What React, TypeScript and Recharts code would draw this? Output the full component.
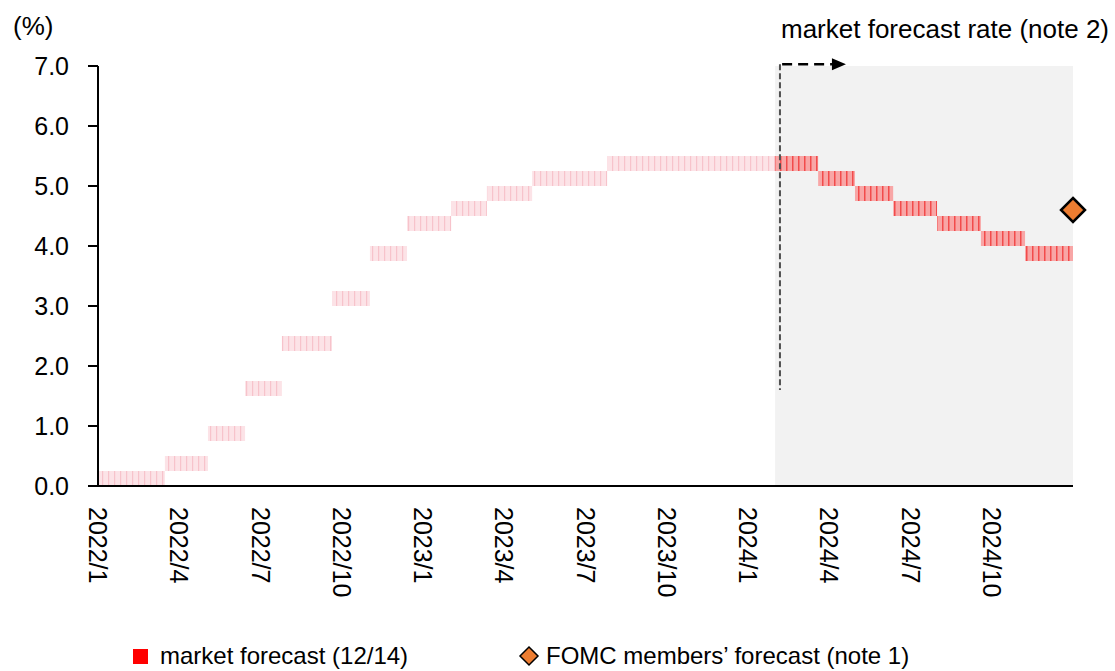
import React from 'react';
import {
  ComposedChart,
  Area,
  Scatter,
  XAxis,
  YAxis,
  ReferenceArea,
  ReferenceLine,
  Legend,
} from 'recharts';

// months counted from 2022/1 (0) to 2025/1 (36)
const histStart = [0, 2.47, 4.06, 5.43, 6.79, 8.64, 10.04, 11.41, 13.04, 14.36, 16.03, 18.8];
const histLow = [0, 0.25, 0.75, 1.5, 2.25, 3.0, 3.75, 4.25, 4.5, 4.75, 5.0, 5.25];
const histEnd = 25.15;

const fcstStart = [25, 26.59, 27.95, 29.36, 30.98, 32.6, 34.23];
const fcstLow = [5.25, 5.0, 4.75, 4.5, 4.25, 4.0, 3.75];
const fcstEnd = 36;

const bandWidth = 0.25;

const fomcMonth = [36];
const fomcRate = [4.6];

const xTicks = [0, 3, 6, 9, 12, 15, 18, 21, 24, 27, 30, 33];
const xTickLabels = [
  '2022/1', '2022/4', '2022/7', '2022/10',
  '2023/1', '2023/4', '2023/7', '2023/10',
  '2024/1', '2024/4', '2024/7', '2024/10',
];
const yTicks = [0, 1, 2, 3, 4, 5, 6, 7];

const forecastFrom = 25;
const forecastLineAt = 25.18;

const FONT = '"Liberation Sans", Arial, sans-serif';

// build rows for the step bands
const rows: any[] = [];
histStart.forEach((m, i) => rows.push({ m, hist: [histLow[i], histLow[i] + bandWidth] }));
rows.push({ m: histEnd, hist: [histLow[histLow.length - 1], histLow[histLow.length - 1] + bandWidth] });
fcstStart.forEach((m, i) => rows.push({ m, fcst: [fcstLow[i], fcstLow[i] + bandWidth] }));
rows.push({ m: fcstEnd, fcst: [fcstLow[fcstLow.length - 1], fcstLow[fcstLow.length - 1] + bandWidth] });
rows.sort((a, b) => a.m - b.m);

const fomcData = fomcMonth.map((m, i) => ({ m, rate: fomcRate[i] }));

const XTick = ({ x, y, index }: any) => (
  <text
    x={x}
    y={y}
    transform={`rotate(90 ${x} ${y})`}
    textAnchor="start"
    dominantBaseline="central"
    fontSize={25}
    fontFamily={FONT}
    fill="#000"
  >
    {xTickLabels[index]}
  </text>
);

const Diamond = ({ cx, cy }: any) => (
  <polygon
    points={`${cx},${cy - 12} ${cx + 12},${cy} ${cx},${cy + 12} ${cx - 12},${cy}`}
    fill="#ED7D31"
    stroke="#000"
    strokeWidth={2.5}
  />
);

const ArrowShape = ({ x1, y1, x2, y2 }: any) => (
  <g>
    <line x1={x1} y1={y1} x2={x2} y2={y2} stroke="#000" strokeWidth={2.5} strokeDasharray="10 6" />
    <polygon points={`${x2},${y2 - 6} ${x2 + 14},${y2} ${x2},${y2 + 6}`} fill="#000" />
  </g>
);

const legendLeft = [133, 518];
const legendOrder = ['square', 'diamond'];

const LegendContent = ({ payload }: any) => {
  const items = (payload || [])
    .filter((p: any) => legendOrder.includes(p.type))
    .sort((a: any, b: any) => legendOrder.indexOf(a.type) - legendOrder.indexOf(b.type));
  return (
    <div style={{ position: 'relative', width: 1115, height: 30, fontFamily: FONT, fontSize: 24 }}>
      {items.map((p: any, i: number) => (
        <div
          key={p.value}
          style={{
            position: 'absolute',
            left: legendLeft[i],
            top: 0,
            height: 30,
            display: 'flex',
            alignItems: 'center',
            whiteSpace: 'nowrap',
            color: '#000',
          }}
        >
          {p.type === 'square' ? (
            <span style={{ width: 15, height: 15, background: '#FF0000', display: 'inline-block', marginRight: 12 }} />
          ) : (
            <svg width={22} height={22} style={{ marginRight: 6 }}>
              <polygon points="11,2 20,11 11,20 2,11" fill="#ED7D31" stroke="#000" strokeWidth={1.5} />
            </svg>
          )}
          <span>{p.value}</span>
        </div>
      ))}
    </div>
  );
};

export default function App() {
  return (
    <div style={{ position: 'absolute', left: 0, top: 0, width: 1115, height: 671, background: '#fff' }}>
      <div style={{ position: 'absolute', left: 13, top: 11, fontFamily: FONT, fontSize: 26, lineHeight: '30px' }}>
        (%)
      </div>
      <div style={{ position: 'absolute', left: 781, top: 14, fontFamily: FONT, fontSize: 26, lineHeight: '30px', whiteSpace: 'nowrap' }}>
        market forecast rate (note 2)
      </div>
      <ComposedChart
        width={1115}
        height={671}
        data={rows}
        margin={{ top: 66, right: 42, left: 0, bottom: 0 }}
        style={{ position: 'absolute', left: 0, top: 0, overflow: 'visible' }}
      >
        <defs>
          <pattern id="histStripes" width="6" height="10" patternUnits="userSpaceOnUse">
            <rect width="6" height="10" fill="#FCE3E7" />
            <rect x="0" width="1.2" height="10" fill="#F7C3CB" />
          </pattern>
          <pattern id="fcstStripes" width="6" height="10" patternUnits="userSpaceOnUse">
            <rect width="6" height="10" fill="#F8A6A6" />
            <rect x="0" width="1.5" height="10" fill="#F24B4B" />
          </pattern>
        </defs>
        <ReferenceArea x1={forecastFrom} x2={fcstEnd} y1={0} y2={7} fill="#F2F2F2" fillOpacity={1} stroke="none" />
        <XAxis
          type="number"
          dataKey="m"
          domain={[0, 36]}
          ticks={xTicks}
          interval={0}
          tick={<XTick />}
          tickLine={false}
          tickSize={0}
          tickMargin={21}
          height={155}
          axisLine={{ stroke: '#000', strokeWidth: 2 }}
        />
        <YAxis
          type="number"
          domain={[0, 7]}
          ticks={yTicks}
          interval={0}
          width={98}
          tickFormatter={(v: number) => v.toFixed(1)}
          tick={{ fontSize: 25, fontFamily: FONT, fill: '#000' }}
          tickSize={10}
          tickMargin={19}
          tickLine={{ stroke: '#000', strokeWidth: 2 }}
          axisLine={{ stroke: '#000', strokeWidth: 2 }}
        />
        <Area
          type="stepAfter"
          dataKey="hist"
          name="market (history)"
          legendType="none"
          fill="url(#histStripes)"
          fillOpacity={1}
          stroke="none"
          connectNulls
          dot={false}
          activeDot={false}
          isAnimationActive={false}
        />
        <Area
          type="stepAfter"
          dataKey="fcst"
          name="market forecast (12/14)"
          legendType="square"
          fill="url(#fcstStripes)"
          fillOpacity={1}
          stroke="none"
          connectNulls
          dot={false}
          activeDot={false}
          isAnimationActive={false}
        />
        <ReferenceLine
          segment={[{ x: forecastLineAt, y: 7.03 }, { x: forecastLineAt, y: 1.6 }]}
          stroke="#505050"
          strokeWidth={2}
          strokeDasharray="6 3"
          ifOverflow="visible"
        />
        <ReferenceLine
          segment={[{ x: 25.26, y: 7.03 }, { x: 27.1, y: 7.03 }]}
          shape={<ArrowShape />}
          ifOverflow="visible"
        />
        <Scatter
          data={fomcData}
          dataKey="rate"
          name="FOMC members’ forecast (note 1)"
          legendType="diamond"
          shape={<Diamond />}
          isAnimationActive={false}
        />
        <Legend verticalAlign="bottom" content={<LegendContent />} />
      </ComposedChart>
    </div>
  );
}
